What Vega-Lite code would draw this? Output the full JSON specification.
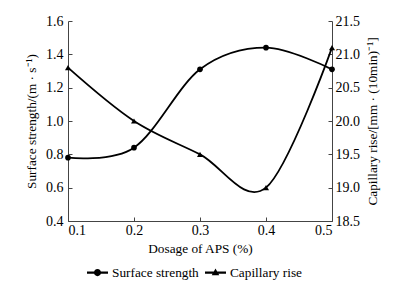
{
  "$schema": "https://vega.github.io/schema/vega-lite/v6.json",
  "width": 264,
  "height": 200,
  "autosize": {"type": "none"},
  "padding": {"left": 68, "top": 21, "right": 71, "bottom": 66},
  "config": {
    "font": "Liberation Serif",
    "view": {"stroke": null},
    "axis": {
      "grid": false,
      "domainColor": "#444",
      "tickColor": "#444",
      "tickSize": -4,
      "labelColor": "black",
      "titleColor": "black",
      "labelFontSize": 14,
      "titleFontSize": 13.3,
      "titleFontWeight": "normal",
      "labelFont": "Liberation Serif",
      "titleFont": "Liberation Serif"
    },
    "legend": {"labelFont": "Liberation Serif", "labelFontSize": 13.3, "labelColor": "black"}
  },
  "datasets": {
    "rows": [
      {"dosage": 0.1, "series": "Surface strength", "value": 0.78},
      {"dosage": 0.2, "series": "Surface strength", "value": 0.84},
      {"dosage": 0.3, "series": "Surface strength", "value": 1.31},
      {"dosage": 0.4, "series": "Surface strength", "value": 1.44},
      {"dosage": 0.5, "series": "Surface strength", "value": 1.31},
      {"dosage": 0.1, "series": "Capillary rise", "value": 20.8},
      {"dosage": 0.2, "series": "Capillary rise", "value": 20.0},
      {"dosage": 0.3, "series": "Capillary rise", "value": 19.5},
      {"dosage": 0.4, "series": "Capillary rise", "value": 19.0},
      {"dosage": 0.5, "series": "Capillary rise", "value": 21.1}
    ]
  },
  "data": {"name": "rows"},
  "encoding": {
    "x": {
      "field": "dosage",
      "type": "quantitative",
      "scale": {"domain": [0.1, 0.5], "nice": false, "zero": false},
      "axis": {"values": [0.1, 0.2, 0.3, 0.4, 0.5], "format": ".1f", "title": "Dosage of APS (%)", "labelFont": "Liberation Serif", "titleFont": "Liberation Serif", "labelPadding": 6, "titlePadding": 4}
    }
  },
  "layer": [
    {
      "transform": [{"filter": "datum.series === 'Surface strength'"}],
      "encoding": {
        "y": {
          "field": "value",
          "type": "quantitative",
          "scale": {"domain": [0.4, 1.6], "nice": false, "zero": false},
          "axis": {"values": [0.4, 0.6, 0.8, 1.0, 1.2, 1.4, 1.6], "format": ".1f", "title": "Surface strength/(m · s⁻¹)", "labelFont": "Liberation Serif", "titleFont": "Liberation Serif", "labelPadding": 9, "titlePadding": 7}
        }
      },
      "layer": [
        {"mark": {"type": "line", "interpolate": "cardinal", "color": "black", "strokeWidth": 1.8}},
        {"mark": {"type": "point", "shape": "circle", "filled": true, "color": "black", "opacity": 1, "size": 32}}
      ]
    },
    {
      "transform": [{"filter": "datum.series === 'Capillary rise'"}],
      "encoding": {
        "y": {
          "field": "value",
          "type": "quantitative",
          "scale": {"domain": [18.5, 21.5], "nice": false, "zero": false},
          "axis": {"orient": "right", "values": [18.5, 19.0, 19.5, 20.0, 20.5, 21.0, 21.5], "format": ".1f", "title": "Capillary rise/[mm · (10min)⁻¹]", "titleAngle": 270, "labelFont": "Liberation Serif", "titleFont": "Liberation Serif", "labelPadding": 7, "titlePadding": 20}
        }
      },
      "layer": [
        {"mark": {"type": "line", "interpolate": "cardinal", "color": "black", "strokeWidth": 1.8}},
        {"mark": {"type": "point", "shape": "triangle-up", "filled": true, "color": "black", "opacity": 1, "size": 36}}
      ]
    },
    {
      "mark": {"type": "point", "filled": true, "color": "black", "opacity": 0, "strokeWidth": 0},
      "encoding": {
        "shape": {
          "field": "series",
          "type": "nominal",
          "scale": {
            "domain": ["Surface strength", "Capillary rise"],
            "range": [
              "M-1,-0.1L1,-0.1L1,0.1L-1,0.1Z M0.34,0A0.34,0.34 0 1,1 -0.34,0A0.34,0.34 0 1,1 0.34,0Z",
              "M-1,-0.1L1,-0.1L1,0.1L-1,0.1Z M0,-0.38L0.36,0.26L-0.36,0.26Z"
            ]
          },
          "legend": {
            "orient": "none",
            "legendX": 19,
            "legendY": 241,
            "direction": "horizontal",
            "title": null,
            "symbolSize": 441,
            "symbolOpacity": 1,
            "symbolFillColor": "black",
            "symbolStrokeWidth": 0,
            "labelFont": "Liberation Serif",
            "labelFontSize": 13.3,
            "labelOffset": 4,
            "columnPadding": 6
          }
        }
      }
    }
  ],
  "resolve": {"scale": {"y": "independent"}}
}
